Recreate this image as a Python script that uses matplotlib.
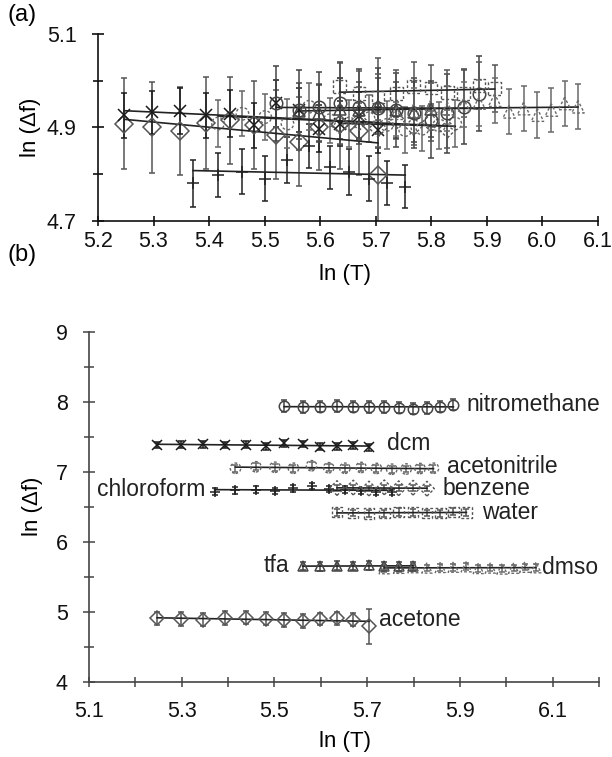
import numpy as np
import matplotlib.pyplot as plt
from matplotlib.ticker import FormatStrFormatter

plt.rcParams['font.family'] = ['Liberation Sans', 'DejaVu Sans']

# ln(T) and ln(Δf) values; panel (b) shows them shifted
acetone_x = [5.247, 5.298, 5.347, 5.394, 5.438, 5.481, 5.521, 5.561, 5.598, 5.635, 5.670, 5.704]
acetone_y = [4.908, 4.900, 4.892, 4.909, 4.915, 4.905, 4.884, 4.869, 4.900, 4.908, 4.892, 4.798]
acetone_err = [0.097, 0.098, 0.095, 0.098, 0.093, 0.095, 0.096, 0.095, 0.092, 0.097, 0.094, 0.25]

dcm_x = [5.247, 5.298, 5.347, 5.394, 5.438, 5.481, 5.521, 5.561, 5.598, 5.635, 5.670, 5.704]
dcm_y = [4.926, 4.932, 4.935, 4.926, 4.929, 4.904, 4.951, 4.937, 4.897, 4.908, 4.925, 4.894]
dcm_err = [0.048, 0.046, 0.05, 0.048, 0.05, 0.048, 0.05, 0.047, 0.05, 0.048, 0.05, 0.05]

chloroform_x = [5.371, 5.416, 5.460, 5.501, 5.541, 5.580, 5.617, 5.652, 5.687, 5.720, 5.753]
chloroform_y = [4.780, 4.797, 4.805, 4.790, 4.830, 4.860, 4.814, 4.804, 4.790, 4.780, 4.772]
chloroform_err = [0.05, 0.047, 0.048, 0.048, 0.05, 0.048, 0.046, 0.05, 0.048, 0.047, 0.046]

acetonitrile_x = [5.416, 5.460, 5.501, 5.541, 5.580, 5.617, 5.652, 5.687, 5.720, 5.753, 5.784, 5.814, 5.843]
acetonitrile_y = [4.908, 4.929, 4.922, 4.908, 4.944, 4.915, 4.908, 4.919, 4.905, 4.894, 4.897, 4.904, 4.908]
acetonitrile_err = [0.05, 0.048, 0.05, 0.052, 0.05, 0.048, 0.05, 0.05, 0.052, 0.05, 0.048, 0.05, 0.05]

nitromethane_x = [5.521, 5.561, 5.598, 5.635, 5.670, 5.704, 5.737, 5.768, 5.799, 5.829, 5.858, 5.886]
nitromethane_y = [4.951, 4.937, 4.944, 4.951, 4.944, 4.941, 4.937, 4.930, 4.915, 4.930, 4.944, 4.972]
nitromethane_err = [0.08, 0.085, 0.075, 0.09, 0.08, 0.085, 0.08, 0.075, 0.08, 0.085, 0.08, 0.08]

water_x = [5.635, 5.670, 5.704, 5.737, 5.768, 5.799, 5.829, 5.858, 5.886, 5.914]
water_y = [4.987, 4.972, 4.965, 4.972, 4.987, 4.984, 4.975, 4.972, 4.990, 4.983]
water_err = [0.05, 0.048, 0.05, 0.05, 0.052, 0.05, 0.048, 0.05, 0.05, 0.05]

benzene_x = [5.635, 5.670, 5.704, 5.737, 5.768, 5.799, 5.829]
benzene_y = [4.905, 4.912, 4.898, 4.915, 4.902, 4.910, 4.896]
benzene_err = [0.04, 0.04, 0.04, 0.04, 0.04, 0.04, 0.04]

tfa_x = [5.561, 5.598, 5.635, 5.670, 5.704, 5.737, 5.768, 5.799]
tfa_y = [4.935, 4.930, 4.940, 4.937, 4.945, 4.938, 4.933, 4.940]
tfa_err = [0.06, 0.06, 0.065, 0.06, 0.06, 0.06, 0.065, 0.06]

dmso_x = [5.737, 5.768, 5.799, 5.829, 5.858, 5.886, 5.914, 5.940, 5.966, 5.991, 6.016, 6.040, 6.064]
dmso_y = [4.930, 4.936, 4.945, 4.940, 4.948, 4.952, 4.958, 4.933, 4.940, 4.926, 4.937, 4.951, 4.944]
dmso_err = [0.048, 0.048, 0.05, 0.048, 0.048, 0.05, 0.048, 0.048, 0.048, 0.05, 0.048, 0.048, 0.048]

# vertical shift of each solvent in panel (b)
offsets = {'nitromethane': 2.99, 'dcm': 2.46, 'acetonitrile': 2.145, 'chloroform': 1.94,
           'benzene': 1.865, 'water': 1.44, 'tfa': 0.72, 'dmso': 0.69, 'acetone': 0.0}

# tick positions
a_xticks = [5.2, 5.3, 5.4, 5.5, 5.6, 5.7, 5.8, 5.9, 6.0, 6.1]
a_yticks = [4.7, 4.9, 5.1]
a_yminor = [4.8, 5.0]
b_xticks = [5.1, 5.3, 5.5, 5.7, 5.9, 6.1]
b_xminor = [5.2, 5.4, 5.6, 5.8, 6.0, 6.2]
b_yticks = [4, 5, 6, 7, 8, 9]
b_yminor = [4.5, 5.5, 6.5, 7.5, 8.5]

series = {
    'acetone': (acetone_x, acetone_y, acetone_err),
    'dcm': (dcm_x, dcm_y, dcm_err),
    'chloroform': (chloroform_x, chloroform_y, chloroform_err),
    'acetonitrile': (acetonitrile_x, acetonitrile_y, acetonitrile_err),
    'nitromethane': (nitromethane_x, nitromethane_y, nitromethane_err),
    'water': (water_x, water_y, water_err),
    'benzene': (benzene_x, benzene_y, benzene_err),
    'tfa': (tfa_x, tfa_y, tfa_err),
    'dmso': (dmso_x, dmso_y, dmso_err),
}

# marker, colour, dashed marker edge?
styles = {
    'acetone': ('D', '#555555', False),
    'dcm': ('x', '#1a1a1a', False),
    'chloroform': ('+', '#222222', False),
    'acetonitrile': ('o', '#666666', True),
    'nitromethane': ('o', '#444444', False),
    'water': ('s', '#555555', True),
    'benzene': ('D', '#555555', True),
    'tfa': ('^', '#444444', False),
    'dmso': ('^', '#6a6a6a', True),
}

# label placement in panel (b): x, y, alignment
labels_b = {
    'nitromethane': (5.915, 7.96, 'left'),
    'dcm': (5.742, 7.40, 'left'),
    'acetonitrile': (5.872, 7.08, 'left'),
    'benzene': (5.862, 6.77, 'left'),
    'chloroform': (5.352, 6.75, 'right'),
    'water': (5.947, 6.42, 'left'),
    'tfa': (5.533, 5.66, 'right'),
    'dmso': (6.078, 5.64, 'left'),
    'acetone': (5.725, 4.89, 'left'),
}


def draw(ax, shifted, ms):
    for name, (x, y, err) in series.items():
        marker, col, dashed = styles[name]
        x = np.array(x)
        y = np.array(y) + (offsets[name] if shifted else 0.0)
        ax.errorbar(x, y, yerr=err, fmt='none', ecolor=col, elinewidth=1.1,
                    capsize=2.3, capthick=1.1, zorder=2)
        c = np.polyfit(x, y, 1)
        xs = np.array([x.min(), x.max()])
        ax.plot(xs, np.polyval(c, xs), color='#222222', lw=1.2, zorder=3)
        if dashed:
            ax.scatter(x, y, marker=marker, s=ms ** 2, facecolors='none', edgecolors=col,
                       linewidths=1.0, linestyles=(0, (2, 1.5)), zorder=4)
        else:
            ax.plot(x, y, ls='none', marker=marker, ms=ms, mfc='none', mec=col,
                    mew=1.1, zorder=4)


fig = plt.figure(figsize=(6.12, 7.57), dpi=100)
ax1 = fig.add_axes([0.1601, 0.7087, 0.8170, 0.2464])
ax2 = fig.add_axes([0.1454, 0.0991, 0.8333, 0.4624])

draw(ax1, False, 9)
draw(ax2, True, 7.5)

for name, (tx, ty, ha) in labels_b.items():
    ax2.text(tx, ty, name, ha=ha, va='center', fontsize=16.5, color='#222222')

# panel (a) axes
ax1.set_xlim(5.2, 6.1)
ax1.set_ylim(4.7, 5.1)
ax1.set_xticks(a_xticks)
ax1.set_yticks(a_yticks)
ax1.set_yticks(a_yminor, minor=True)
ax1.xaxis.set_major_formatter(FormatStrFormatter('%.1f'))
ax1.yaxis.set_major_formatter(FormatStrFormatter('%.1f'))
ax1.tick_params(which='both', direction='inout', width=1.2, colors='#111111', labelsize=15.5)
ax1.tick_params(axis='y', which='major', length=8.5, pad=11)
ax1.tick_params(axis='y', which='minor', length=7)
ax1.tick_params(axis='x', length=7.5, pad=4)

# panel (b) axes
ax2.set_xlim(5.1, 6.2)
ax2.set_ylim(4, 9)
ax2.set_xticks(b_xticks)
ax2.set_xticks(b_xminor, minor=True)
ax2.set_yticks(b_yticks)
ax2.set_yticks(b_yminor, minor=True)
ax2.xaxis.set_major_formatter(FormatStrFormatter('%.1f'))
ax2.tick_params(which='both', direction='inout', width=1.1, colors='#444444',
                labelcolor='#111111', labelsize=15.5)
ax2.tick_params(axis='y', which='major', length=8.5, pad=11)
ax2.tick_params(axis='y', which='minor', length=6.5)
ax2.tick_params(axis='x', which='both', length=7, pad=10.5)

for ax, sc in ((ax1, '#111111'), (ax2, '#444444')):
    ax.spines['top'].set_visible(False)
    ax.spines['right'].set_visible(False)
    for s in ('left', 'bottom'):
        ax.spines[s].set_color(sc)
        ax.spines[s].set_linewidth(1.2)
    ax.set_xlabel('ln (T)', fontsize=16)
    ax.set_ylabel('ln (Δf)', fontsize=16)

ax1.xaxis.set_label_coords(0.494, -0.235)
ax1.yaxis.set_label_coords(-0.114, 0.5)
ax2.xaxis.set_label_coords(0.502, -0.14)
ax2.yaxis.set_label_coords(-0.09, 0.503)

fig.text(0.012, 1 - 4 / 757, '(a)', fontsize=17, va='top', ha='left')
fig.text(0.012, 1 - 244 / 757, '(b)', fontsize=17, va='top', ha='left')

fig.savefig('out.png', dpi=100)
